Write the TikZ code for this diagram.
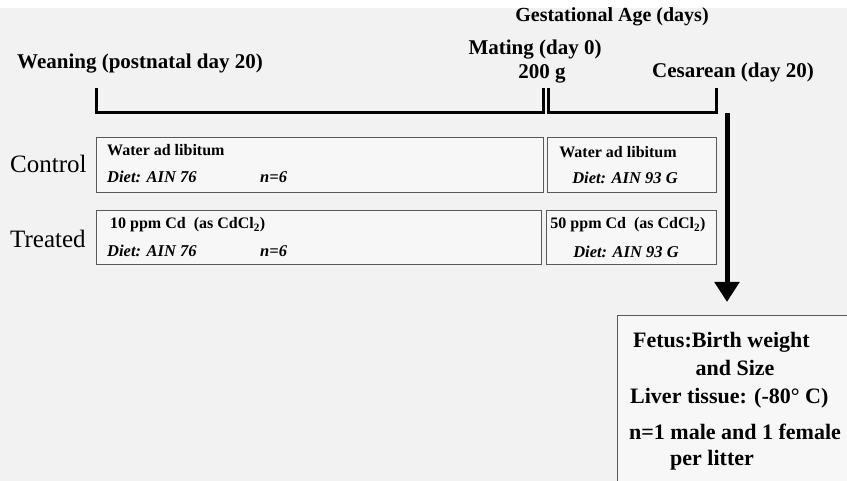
\documentclass[tikz,border=0pt]{standalone}
\usepackage{fontspec}
\setmainfont{Liberation Serif}
\usetikzlibrary{arrows.meta}
\tikzset{grpbox/.style={draw=black!65, line width=1.3pt, fill=black!3, rectangle, inner sep=0pt, anchor=north west},
  bar/.style={line width=3pt, line join=miter},
  head/.style={font=\fontsize{21}{24}\selectfont\bfseries, inner sep=0pt},
  row/.style={font=\fontsize{25}{28}\selectfont, inner sep=0pt, anchor=west},
  small/.style={font=\fontsize{16}{18}\selectfont\bfseries, inner sep=0pt},
  diet/.style={font=\fontsize{16.5}{18}\selectfont\bfseries\itshape, inner sep=0pt},
  big/.style={font=\fontsize{22}{25}\selectfont\bfseries, inner sep=0pt, anchor=west}}

\begin{document}
\begin{tikzpicture}[x=1pt, y=-1pt]
      \useasboundingbox (0,0) rectangle (847,481);
      \fill [white] (0,0) rectangle (847,8);
      \fill [black!5] (0,8) rectangle (847,481);

      % time line
      \node [head, anchor=west] (wean) at (17,64) {Weaning (postnatal day 20)};
      \node [font=\fontsize{20}{23}\selectfont\bfseries, inner sep=0pt] (gest) at (612,17) {Gestational Age (days)};
      \node [head] (mate) at (535,50) {Mating (day 0)};
      \node [head] (gram) at (542,74) {200 g};
      \node [head] (ces) at (733,72) {Cesarean (day 20)};
      \coordinate (w1) at (96,88);
      \coordinate (w2) at (96,113);
      \coordinate (m1) at (543,113);
      \coordinate (m2) at (543,88);
      \coordinate (m3) at (548,88);
      \coordinate (m4) at (548,113);
      \coordinate (c1) at (716,113);
      \coordinate (c2) at (716,88);
      \draw [bar] (w1) -- (w2) -- (m1) -- (m2) (m3) -- (m4) -- (c1) -- (c2);

      % groups
      \node [row] (ctrl) at (10,164) {Control};
      \node [row] (treat) at (10,239) {Treated};
      \node [grpbox, minimum width=447pt, minimum height=55pt] (ca) at (96,137) {};
      \node [grpbox, minimum width=169pt, minimum height=55pt] (cb) at (547,137) {};
      \node [grpbox, minimum width=445pt, minimum height=54pt] (ta) at (96,210) {};
      \node [grpbox, minimum width=170pt, minimum height=54pt] (tb) at (546,210) {};

      \node [small, anchor=west] (cw) at (107,150) {Water ad libitum};
      \node [diet, anchor=west] (cd) at (107,177) {Diet: AIN 76};
      \node [diet, anchor=west] (cn) at (260,177) {n=6};
      \node [small, anchor=west] (tw) at (110,225) {10 ppm Cd\ \ (as CdCl\textsubscript{2})};
      \node [diet, anchor=west] (td) at (107,251) {Diet: AIN 76};
      \node [diet, anchor=west] (tn) at (260,251) {n=6};
      \node [small] (cw2) at (618,152) {Water ad libitum};
      \node [diet] (cd2) at (625,178) {Diet: AIN 93 G};
      \node [small] (tw2) at (628,225) {50 ppm Cd\ \ (as CdCl\textsubscript{2})};
      \node [diet] (td2) at (626,252) {Diet: AIN 93 G};

      % outcome
      \node [grpbox, minimum width=240pt, minimum height=166pt] (fetus) at (617,315) {};
      \coordinate (arr) at (727,113);
      \draw [line width=5pt, -{Triangle[width=24pt, length=20pt]}] (arr) -- ([yshift=13pt]arr |- fetus.north);
      \node [big] (f1) at (633,342) {Fetus:Birth weight};
      \node [big, anchor=center] (f2) at (735,368) {and Size};
      \node [big] (f3) at (630,398) {Liver tissue: (-80° C)};
      \node [big] (f4) at (629,432) {n=1 male and 1 female};
      \node [big] (f5) at (670,460) {per litter};
\end{tikzpicture}
\end{document}
